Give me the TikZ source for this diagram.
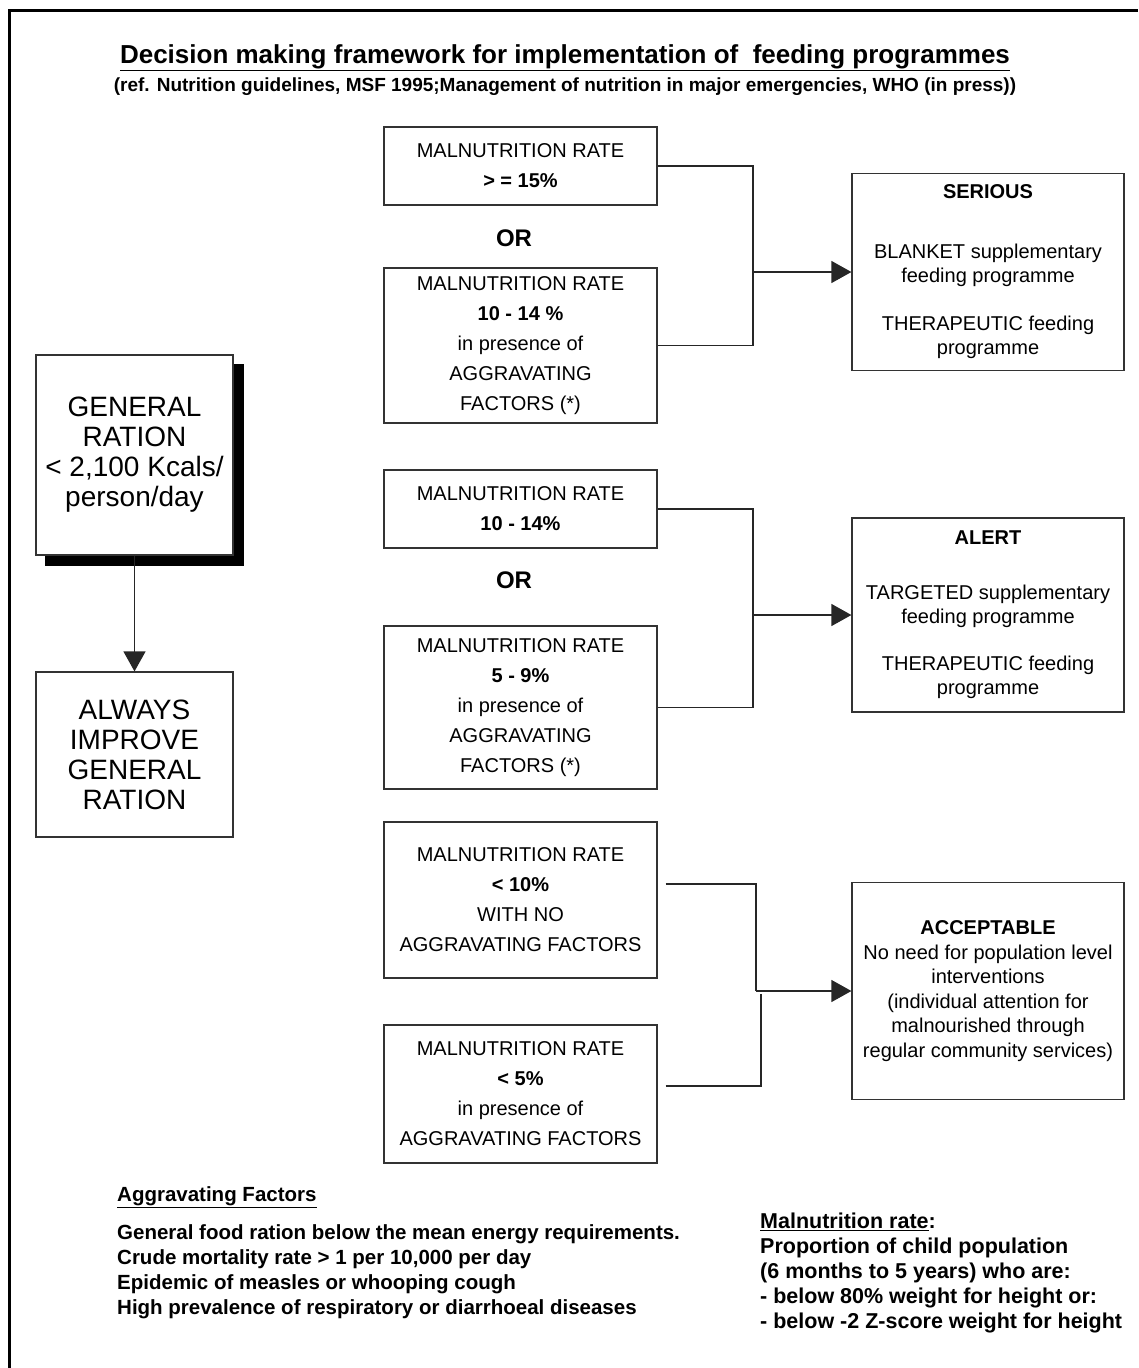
\documentclass[tikz,border=0pt]{standalone}
\usepackage{fontspec}
\setmainfont{Liberation Sans}
\usetikzlibrary{arrows.meta,backgrounds}

\begin{document}
\begin{tikzpicture}[x=1pt,y=-1pt,
ratebox/.style={draw=black!80,line width=1.2pt,minimum width=273pt,
align=center,inner sep=0pt,font=\fontsize{20}{30}\selectfont},
levelbox/.style={draw=black!80,line width=1.2pt,minimum width=272pt,
align=center,inner sep=0pt,font=\fontsize{20}{24}\selectfont},
rationbox/.style={draw=black!80,line width=1.2pt,fill=white,
minimum width=197pt,align=center,inner sep=0pt,
font=\fontsize{28}{30}\selectfont},
orlabel/.style={font=\bfseries\fontsize{24}{24}\selectfont},
note/.style={align=left,inner sep=0pt,font=\bfseries\fontsize{20.5}{25}\selectfont},
link/.style={draw=black!85,line width=1.2pt},
arr/.style={link,-{Triangle[length=20pt,width=22pt]}}]
\useasboundingbox (0,0) rectangle (1138,1368);
\draw[line width=3pt] (9,1368) -- (9,10) -- (1138,10);

\node (title) at (565,58) {\bfseries\fontsize{26}{26}\selectfont
\underline{Decision making framework for implementation of\ \ feeding programmes}};
\node (subtitle) at (565,87) {\bfseries\fontsize{19}{19}\selectfont
(ref. Nutrition guidelines, MSF 1995;Management of nutrition in major emergencies, WHO (in press))};

\node[rationbox,minimum height=200pt] (gen) at (134.5,455)
{GENERAL\\RATION\\< 2,100 Kcals/\\person/day};
\begin{scope}[on background layer]
\fill ([shift={(10pt,-10pt)}]gen.south west) rectangle ([shift={(10pt,-10pt)}]gen.north east);
\end{scope}
\node[rationbox,minimum height=165pt] (always) at (134.5,754.5)
{ALWAYS\\IMPROVE\\GENERAL\\RATION};
\draw[arr] (gen.south) -- (always.north);

\node[ratebox,minimum height=78pt] (r1) at (520.5,166)
{MALNUTRITION RATE\\\textbf{> = 15\%}};
\node[orlabel] (or1) at (514,238) {OR};
\node[ratebox,minimum height=155pt] (r2) at (520.5,345.5)
{MALNUTRITION RATE\\\textbf{10 - 14 \%}\\in presence of\\AGGRAVATING\\FACTORS (*)};
\node[levelbox,minimum height=197pt] (serious) at (988,272)
{\textbf{SERIOUS}\\[36pt]BLANKET supplementary\\feeding programme\\[24pt]THERAPEUTIC feeding\\programme};
\coordinate (j1) at (753,272);
\draw[link] (r1.east) -| (j1) |- (r2.east);
\draw[arr] (j1) -- (serious.west);

\node[ratebox,minimum height=78pt] (a1) at (520.5,509)
{MALNUTRITION RATE\\\textbf{10 - 14\%}};
\node[orlabel] (or2) at (514,580) {OR};
\node[ratebox,minimum height=163pt] (a2) at (520.5,707.5)
{MALNUTRITION RATE\\\textbf{5 - 9\%}\\in presence of\\AGGRAVATING\\FACTORS (*)};
\node[levelbox,minimum height=194pt] (alert) at (988,615)
{\textbf{ALERT}\\[31pt]TARGETED supplementary\\feeding programme\\[23pt]THERAPEUTIC feeding\\programme};
\coordinate (j2) at (753,615);
\draw[link] (a1.east) -| (j2) |- (a2.east);
\draw[arr] (j2) -- (alert.west);

\node[ratebox,minimum height=156pt] (b1) at (520.5,900)
{MALNUTRITION RATE\\\textbf{< 10\%}\\WITH NO\\AGGRAVATING FACTORS};
\node[ratebox,minimum height=138pt] (b2) at (520.5,1094)
{MALNUTRITION RATE\\\textbf{< 5\%}\\in presence of\\AGGRAVATING FACTORS};
\node[levelbox,minimum height=217pt,font=\fontsize{20}{24.5}\selectfont] (accept) at (988,991)
{\textbf{ACCEPTABLE}\\No need for population level\\interventions\\(individual attention for\\malnourished through\\regular community services)};
\coordinate (b1out) at ([shift={(8pt,16pt)}]b1.east);
\coordinate (b2out) at ([shift={(8pt,8pt)}]b2.east);
\coordinate (j3) at (756,991);
\coordinate (j4) at (761,994);
\draw[link] (b1out) -| (j3);
\draw[arr] (j3) -- (accept.west);
\draw[link] (b2out) -| (j4);

\node[note,anchor=west] (aggtitle) at (117,1197) {\underline{Aggravating Factors}};
\node[note,anchor=west] (agglist) at (117,1272)
{General food ration below the mean energy requirements.\\
Crude mortality rate > 1 per 10,000 per day\\
Epidemic of measles or whooping cough\\
High prevalence of respiratory or diarrhoeal diseases};
\node[note,anchor=west,font=\bfseries\fontsize{21.5}{25}\selectfont] (malnote) at (760,1273)
{\underline{Malnutrition rate}:\\
Proportion of child population\\
(6 months to 5 years) who are:\\
- below 80\% weight for height or:\\
- below -2 Z-score weight for height};
\end{tikzpicture}
\end{document}
